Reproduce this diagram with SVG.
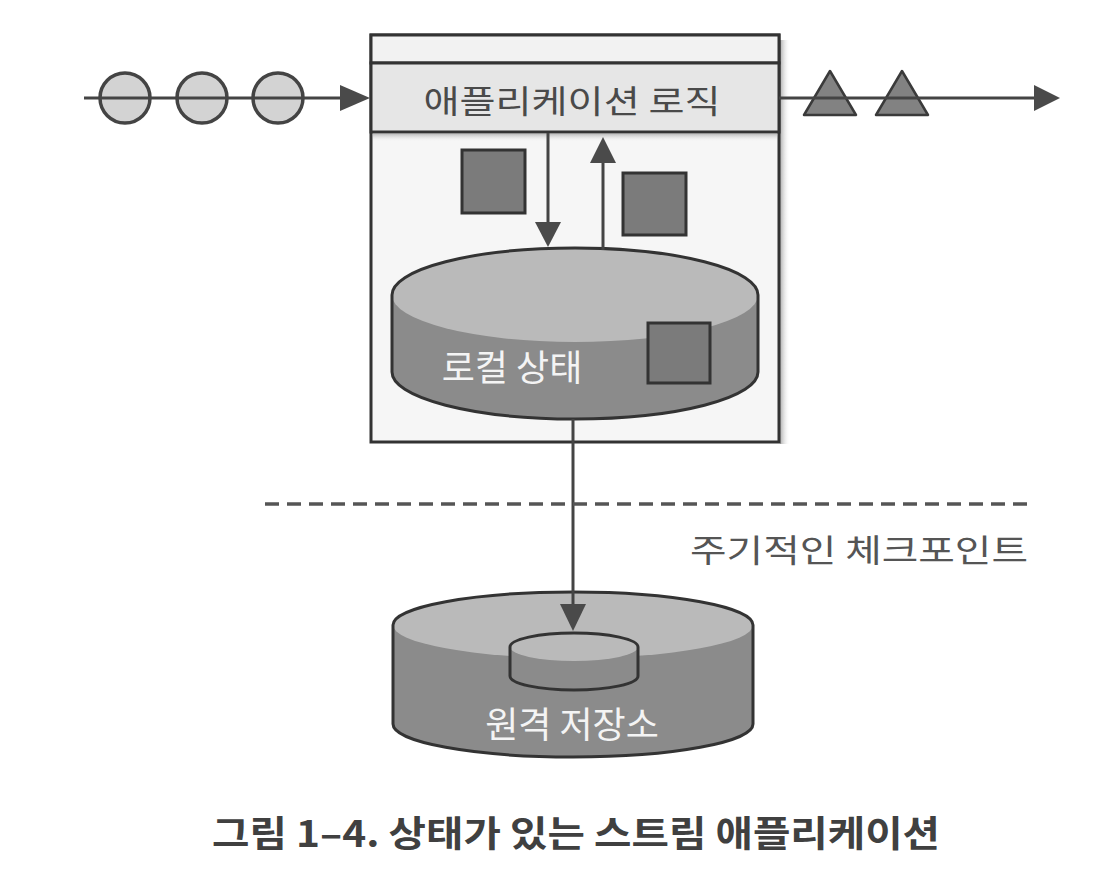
<svg xmlns="http://www.w3.org/2000/svg" width="1120" height="890" viewBox="0 0 1120 890">
<defs>
<style>
.ln{stroke:#444;stroke-width:3;fill:none}
.ah{fill:#4a4a4a;stroke:none}
.circ{fill:#d3d3d3;stroke:#444;stroke-width:3.5}
.tri{fill:#828282;stroke:#3a3a3a;stroke-width:2.5;stroke-linejoin:round}
.sq{fill:#7b7b7b;stroke:#333;stroke-width:3}
.cylside{fill:#8b8b8b;stroke:none}
.cyltop{fill:#bababa;stroke:none}
.outline{fill:none;stroke:#333;stroke-width:3}
.lbl{font-family:"Noto Sans CJK KR","Noto Sans",sans-serif}
</style>
<linearGradient id="shadow" x1="0" x2="1" y1="0" y2="0">
<stop offset="0" stop-color="#888" stop-opacity="0.7"/>
<stop offset="1" stop-color="#fff" stop-opacity="0"/>
</linearGradient>
<linearGradient id="shadowv" x1="0" x2="0" y1="0" y2="1">
<stop offset="0" stop-color="#999" stop-opacity="0.6"/>
<stop offset="1" stop-color="#fff" stop-opacity="0"/>
</linearGradient>
</defs>
<rect width="1120" height="890" fill="#fff"/>

<g id="app-box">
<rect x="780" y="40" width="10" height="404" fill="url(#shadow)"/>
<rect x="371" y="35" width="408" height="407" fill="#f6f6f6" stroke="#333" stroke-width="3"/>
<rect x="371" y="35" width="408" height="28" fill="#f2f2f2" stroke="#333" stroke-width="3"/>
<rect x="373" y="134" width="404" height="8" fill="url(#shadowv)"/>
<rect x="371" y="63" width="408" height="69" fill="#e6e6e6" stroke="#333" stroke-width="3"/>
<text class="lbl" x="572" y="113" font-size="32" fill="#4a4a4a" text-anchor="middle" textLength="297" lengthAdjust="spacingAndGlyphs">애플리케이션 로직</text>
</g>

<g id="input-events">
<circle class="circ" cx="125" cy="98" r="25"/>
<circle class="circ" cx="202" cy="98" r="25"/>
<circle class="circ" cx="278" cy="98" r="25"/>
</g>

<g id="output-events">
<polygon class="tri" points="830,71 856,115 804,115"/>
<polygon class="tri" points="902,71 928,115 876,115"/>
</g>

<g id="state-squares">
<rect class="sq" x="462" y="150" width="63" height="63"/>
<rect class="sq" x="623" y="173" width="63" height="62"/>
</g>

<g id="local-state">
<path class="cylside" d="M392,295 A183,47 0 0 1 758,295 L758,372 A183,47 0 0 1 392,372 Z"/>
<ellipse class="cyltop" cx="575" cy="295" rx="183" ry="47"/>
<path class="outline" d="M392,295 A183,47 0 0 1 758,295 L758,372 A183,47 0 0 1 392,372 Z"/>
<rect class="sq" x="648" y="323" width="62" height="60"/>
<text class="lbl" x="512" y="381" font-size="36" fill="#f4f4f4" text-anchor="middle">로컬 상태</text>
</g>

<g id="remote-storage">
<path class="cylside" d="M393,625 A180,33 0 0 1 753,625 L753,724 A180,33 0 0 1 393,724 Z"/>
<ellipse class="cyltop" cx="573" cy="625" rx="180" ry="33"/>
<path class="outline" d="M393,625 A180,33 0 0 1 753,625 L753,724 A180,33 0 0 1 393,724 Z"/>
<path class="cylside" d="M510,647 A64,14 0 0 1 638,647 L638,676 A64,14 0 0 1 510,676 Z"/>
<ellipse class="cyltop" cx="574" cy="647" rx="64" ry="14" fill="#b5b5b5"/>
<path class="outline" d="M510,647 A64,14 0 0 1 638,647 L638,676 A64,14 0 0 1 510,676 Z"/>
<text class="lbl" x="572" y="738" font-size="36" fill="#f4f4f4" text-anchor="middle">원격 저장소</text>
</g>

<g id="connectors">
<line class="ln" x1="84" y1="98" x2="342" y2="98"/>
<polygon class="ah" points="340,85 370,98 340,111"/>
<line class="ln" x1="779" y1="98" x2="1036" y2="98"/>
<polygon class="ah" points="1034,85 1060,98 1034,111"/>
<line class="ln" x1="548" y1="133" x2="548" y2="224"/>
<polygon class="ah" points="535,222 561,222 548,247"/>
<line class="ln" x1="603" y1="250" x2="603" y2="161"/>
<polygon class="ah" points="590,163 616,163 603,137"/>
<line class="ln" x1="573" y1="419" x2="573" y2="606"/>
<polygon class="ah" points="560,604 586,604 573,631"/>
<line x1="265" y1="504" x2="1030" y2="504" stroke="#555" stroke-width="3.5" stroke-dasharray="14,8"/>
</g>

<g id="checkpoint-label">
<text class="lbl" x="1028" y="562" font-size="32" fill="#555" text-anchor="end" textLength="338" lengthAdjust="spacingAndGlyphs">주기적인 체크포인트</text>
</g>

<g id="caption">
<text class="lbl" x="576" y="847" font-size="36" font-weight="bold" fill="#404040" text-anchor="middle" textLength="728" lengthAdjust="spacingAndGlyphs">그림 1–4. 상태가 있는 스트림 애플리케이션</text>
</g>
</svg>
